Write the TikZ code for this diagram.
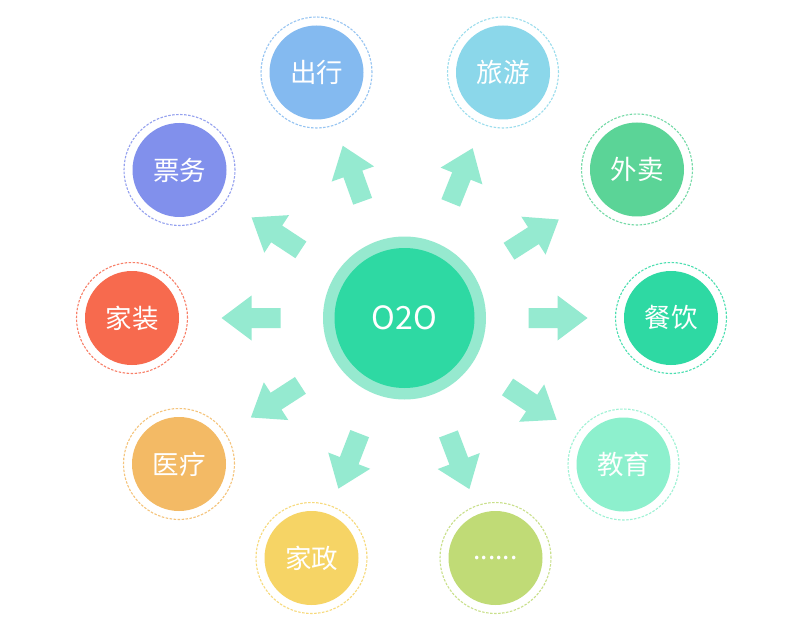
\documentclass[tikz,border=0pt]{standalone}
\usepackage{fontspec}
\setmainfont{Noto Sans CJK SC}
\usetikzlibrary{calc}
\definecolor{cArrow}{HTML}{95EAD0}
\definecolor{cRing}{HTML}{96E9CF}
\definecolor{cCore}{HTML}{2ED9A3}
\definecolor{cChuxing}{HTML}{84BAF0}
\definecolor{cLvyou}{HTML}{8BD7EA}
\definecolor{cWaimai}{HTML}{5BD497}
\definecolor{cCanyin}{HTML}{2ED9A3}
\definecolor{cJiaoyu}{HTML}{8DF0CD}
\definecolor{cMore}{HTML}{C0DB76}
\definecolor{cJiazheng}{HTML}{F6D465}
\definecolor{cYiliao}{HTML}{F3BA65}
\definecolor{cJiazhuang}{HTML}{F76A4E}
\definecolor{cPiaowu}{HTML}{8190EC}
\tikzset{
  item/.style={circle, fill=#1, minimum size=94pt, inner sep=0pt, text=white, font=\fontsize{26.5}{30}\selectfont},
  ring/.style={draw=#1!85, line width=1.1pt, dash pattern=on 2.5pt off 1.5pt},
  arrowfill/.style={fill=cArrow}
}
\newcommand{\outarrow}[1]{%
  \fill[arrowfill] ($(core.center)!124pt!(#1.center)!10pt!90:(#1.center)$)
    -- ($(core.center)!153pt!(#1.center)!10pt!90:(#1.center)$)
    -- ($(core.center)!153pt!(#1.center)!22.5pt!90:(#1.center)$)
    -- ($(core.center)!183pt!(#1.center)$)
    -- ($(core.center)!153pt!(#1.center)!22.5pt!-90:(#1.center)$)
    -- ($(core.center)!153pt!(#1.center)!10pt!-90:(#1.center)$)
    -- ($(core.center)!124pt!(#1.center)!10pt!-90:(#1.center)$) -- cycle;}
\begin{document}
\begin{tikzpicture}[x=1pt,y=-1pt]
\useasboundingbox (0,0) rectangle (803,631);
\fill[white] (0,0) rectangle (803,631);
% center
\fill[cRing] (404.5,318) circle (81.5pt);
\node[circle, fill=cCore, minimum size=140pt, inner sep=0pt, text=white, font=\fontsize{32}{36}\selectfont] (core) at (404.5,318) {O2O};
% items
\node[item=cChuxing] (chuxing) at (316.5,72.5) {出行};
\node[item=cLvyou] (lvyou) at (503,72.5) {旅游};
\node[item=cWaimai] (waimai) at (637,169.5) {外卖};
\node[item=cCanyin] (canyin) at (671,318) {餐饮};
\node[item=cJiaoyu] (jiaoyu) at (623.5,464.5) {教育};
\node[item=cMore] (more) at (495.5,558) {......};
\node[item=cJiazheng] (jiazheng) at (311.5,558) {家政};
\node[item=cYiliao] (yiliao) at (179,464) {医疗};
\node[item=cJiazhuang] (jiazhuang) at (132,318) {家装};
\node[item=cPiaowu] (piaowu) at (179.5,170) {票务};
% dashed rings
\draw[ring=cChuxing] (chuxing.center) circle (55.5pt);
\draw[ring=cLvyou] (lvyou.center) circle (55.5pt);
\draw[ring=cWaimai] (waimai.center) circle (55.5pt);
\draw[ring=cCanyin] (canyin.center) circle (55.5pt);
\draw[ring=cJiaoyu] (jiaoyu.center) circle (55.5pt);
\draw[ring=cMore] (more.center) circle (55.5pt);
\draw[ring=cJiazheng] (jiazheng.center) circle (55.5pt);
\draw[ring=cYiliao] (yiliao.center) circle (55.5pt);
\draw[ring=cJiazhuang] (jiazhuang.center) circle (55.5pt);
\draw[ring=cPiaowu] (piaowu.center) circle (55.5pt);
% arrows
\outarrow{chuxing}
\outarrow{lvyou}
\outarrow{waimai}
\outarrow{canyin}
\outarrow{jiaoyu}
\outarrow{more}
\outarrow{jiazheng}
\outarrow{yiliao}
\outarrow{jiazhuang}
\outarrow{piaowu}
\end{tikzpicture}
\end{document}
